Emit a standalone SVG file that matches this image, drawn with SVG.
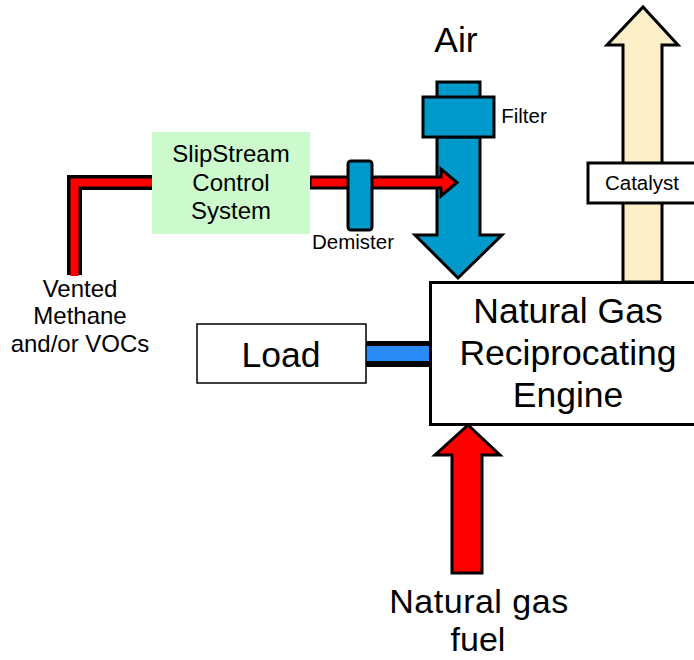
<svg xmlns="http://www.w3.org/2000/svg" width="694" height="660" viewBox="0 0 694 660">
<style>
text{font-family:"Liberation Sans",Arial,sans-serif;fill:#000;text-anchor:middle}
.big{font-size:35.5px}
.fuel{font-size:34px}
.mid{font-size:24px}
.sm{font-size:20.5px}
.ol{stroke:#000;stroke-width:3}
</style>
<rect width="694" height="660" fill="#fff"/>
<g id="exhaust">
  <polygon class="ol" points="623,282 623,45 607,45 643,7 678,45 662,45 662,282" fill="#fdefc8"/>
</g>
<g id="catalyst">
  <rect class="ol" x="588" y="163" width="110" height="40" fill="#fff"/>
  <text class="sm" x="642" y="190">Catalyst</text>
</g>
<g id="air">
  <rect class="ol" x="437" y="82" width="43" height="16" fill="#0099cc"/>
  <polygon class="ol" points="437,137 437,235 415,235 458,278 502,235 480,235 480,137" fill="#0099cc"/>
  <rect class="ol" x="423" y="97" width="71" height="40" fill="#0099cc"/>
  <text class="big" x="456" y="52">Air</text>
  <text class="sm" x="524" y="123">Filter</text>
</g>
<g id="connectors">
  <path d="M74.5,275 V182.5 H152" fill="none" stroke="#000" stroke-width="15" stroke-linejoin="miter"/>
  <path d="M74.5,276 V182.5 H152" fill="none" stroke="#f00" stroke-width="8" stroke-linejoin="miter"/>
  <polygon class="ol" points="310,177 441,177 441,169 457,182.5 441,196 441,188 310,188" fill="#f00"/>
  <rect x="366" y="341" width="63" height="26" fill="#000"/>
  <rect x="366" y="346" width="63" height="15" fill="#2a8af6"/>
</g>
<g id="slipstream">
  <rect x="152" y="132" width="158" height="102" fill="#ccfacc"/>
  <text class="mid" x="231" y="162">SlipStream</text>
  <text class="mid" x="231" y="191">Control</text>
  <text class="mid" x="231" y="219">System</text>
</g>
<g id="demister">
  <rect class="ol" x="348" y="161" width="24" height="69" rx="3" fill="#0099cc"/>
  <text class="sm" x="353" y="249">Demister</text>
</g>
<g id="vented">
  <text class="mid" x="80" y="297">Vented</text>
  <text class="mid" x="80" y="324">Methane</text>
  <text class="mid" x="80" y="352">and/or VOCs</text>
</g>
<g id="load">
  <rect x="197" y="324" width="169" height="59" fill="#fff" stroke="#000" stroke-width="1.5"/>
  <text class="big" x="281" y="367">Load</text>
</g>
<g id="engine">
  <rect class="ol" x="430.5" y="282.5" width="280" height="142" fill="#fff"/>
  <text class="big" x="568" y="323">Natural Gas</text>
  <text class="big" x="568" y="365">Reciprocating</text>
  <text class="big" x="568" y="407">Engine</text>
</g>
<g id="fuel">
  <polygon class="ol" points="452,573 452,455 435,455 468,425 500,455 482,455 482,573" fill="#f00"/>
  <text class="fuel" x="479" y="613" letter-spacing="0.5">Natural gas</text>
  <text class="fuel" x="478" y="651">fuel</text>
</g>
</svg>
